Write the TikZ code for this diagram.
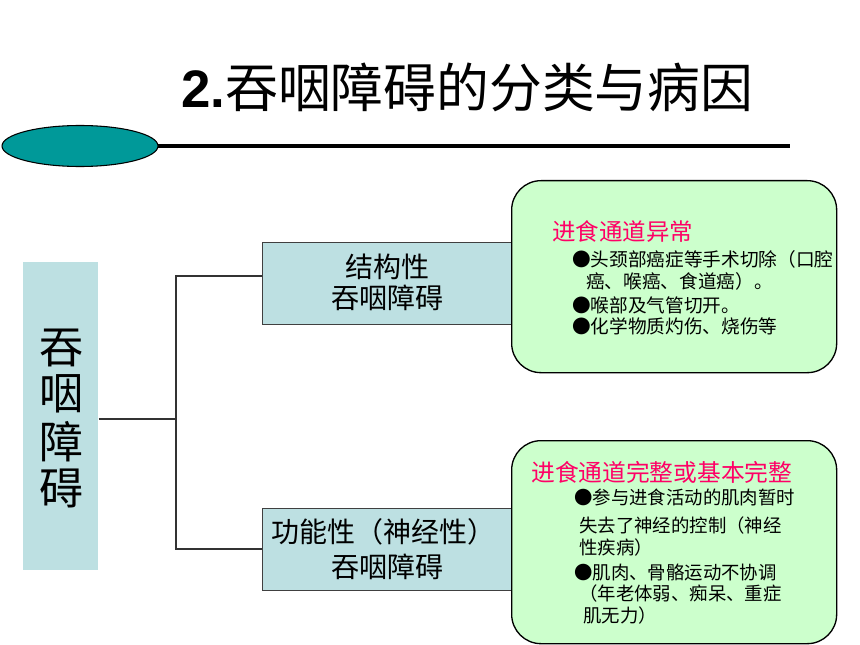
\documentclass[tikz,border=0pt]{standalone}
\usepackage{fontspec}
\usetikzlibrary{shapes.geometric}
\setmainfont{Liberation Sans}
\newfontfamily\cjk{Noto Sans CJK SC}
\definecolor{tealfill}{HTML}{009999}
\definecolor{cyanbox}{HTML}{BDE0E2}
\definecolor{greenbox}{HTML}{CCFFCC}
\definecolor{redtxt}{HTML}{FF0066}
\begin{document}
\begin{tikzpicture}[x=0.75pt,y=-0.75pt,
  conn/.style={draw=black!80,line width=0.8pt},
  cbox/.style={fill=cyanbox,draw=black!75,line width=0.8pt},
  gbox/.style={fill=greenbox,draw=black,line width=1pt,rounded corners=22pt},
  txt/.style={inner sep=0pt,font=\cjk},
]
\useasboundingbox (0,0) rectangle (860,645);
% title
\node[txt,anchor=base west] (title) at (181,108) {\fontsize{39.6pt}{39.6pt}\selectfont\bfseries\rmfamily 2.\cjk\mdseries 吞咽障碍的分类与病因};
% header line and ellipse
\draw[line width=2.4pt] (158,146) -- (790,146);
\node[ellipse,draw=black,line width=0.8pt,fill=tealfill,minimum width=156*0.75pt,minimum height=41*0.75pt,inner sep=0pt] (ell) at (80,146) {};
% left box
\node[fill=cyanbox,minimum width=75*0.75pt,minimum height=308*0.75pt,inner sep=0pt,anchor=north west] (lb) at (23,262) {};
\node[txt,anchor=base] (l1) at (61,363) {\fontsize{33pt}{33pt}\selectfont 吞};
\node[txt,anchor=base] (l2) at (61,409) {\fontsize{33pt}{33pt}\selectfont 咽};
\node[txt,anchor=base] (l3) at (61,458) {\fontsize{33pt}{33pt}\selectfont 障};
\node[txt,anchor=base] (l4) at (61,504) {\fontsize{33pt}{33pt}\selectfont 碍};
% structure boxes
\node[cbox,minimum width=249*0.75pt,minimum height=82*0.75pt,inner sep=0pt,anchor=north west] (s1) at (262,242) {};
\node[cbox,minimum width=249*0.75pt,minimum height=82*0.75pt,inner sep=0pt,anchor=north west] (s2) at (262,508) {};
\node[txt,anchor=base] (s1a) at (387,277) {\fontsize{21pt}{21pt}\selectfont 结构性};
\node[txt,anchor=base] (s1b) at (387,309) {\fontsize{21pt}{21pt}\selectfont 吞咽障碍};
\node[txt,anchor=base] (s2a) at (383,542) {\fontsize{21pt}{21pt}\selectfont 功能性（神经性）};
\node[txt,anchor=base] (s2b) at (387,577) {\fontsize{21pt}{21pt}\selectfont 吞咽障碍};
% connectors
\coordinate (j) at (176,419);
\coordinate (ya) at (0,276);
\coordinate (yb) at (0,549);
\coordinate (yc) at (0,419);
\draw[conn] (lb.east |- yc) -- (j);
\draw[conn] (s1.west |- ya) -| (j) |- (s2.west |- yb);
% green boxes
\node[gbox,minimum width=325*0.75pt,minimum height=192*0.75pt,inner sep=0pt,anchor=north west] (g1) at (511,180) {};
\node[gbox,minimum width=325*0.75pt,minimum height=203*0.75pt,inner sep=0pt,anchor=north west] (g2) at (511,440) {};
% green box 1 text
\node[txt,anchor=base west,text=redtxt] (g1t) at (552,241) {\fontsize{17.6pt}{17.6pt}\selectfont 进食通道异常};
\node[txt,anchor=base west] (g1a) at (572,267) {\fontsize{14pt}{14pt}\selectfont ●头颈部癌症等手术切除（口腔};
\node[txt,anchor=base west] (g1b) at (586,289) {\fontsize{14pt}{14pt}\selectfont 癌、喉癌、食道癌）。};
\node[txt,anchor=base west] (g1c) at (572,312) {\fontsize{14pt}{14pt}\selectfont ●喉部及气管切开。};
\node[txt,anchor=base west] (g1d) at (572,334) {\fontsize{14pt}{14pt}\selectfont ●化学物质灼伤、烧伤等};
% green box 2 text
\node[txt,anchor=base west,text=redtxt] (g2t) at (531,481) {\fontsize{17.8pt}{17.8pt}\selectfont 进食通道完整或基本完整};
\node[txt,anchor=base west] (g2a) at (574,504) {\fontsize{13.8pt}{13.8pt}\selectfont ●参与进食活动的肌肉暂时};
\node[txt,anchor=base west] (g2b) at (579,532) {\fontsize{13.8pt}{13.8pt}\selectfont 失去了神经的控制（神经};
\node[txt,anchor=base west] (g2c) at (579,554) {\fontsize{13.8pt}{13.8pt}\selectfont 性疾病）};
\node[txt,anchor=base west] (g2d) at (574,579) {\fontsize{13.8pt}{13.8pt}\selectfont ●肌肉、骨骼运动不协调};
\node[txt,anchor=base west] (g2e) at (579,600) {\fontsize{13.8pt}{13.8pt}\selectfont （年老体弱、痴呆、重症};
\node[txt,anchor=base west] (g2f) at (583,622) {\fontsize{13.8pt}{13.8pt}\selectfont 肌无力）};
\end{tikzpicture}
\end{document}
